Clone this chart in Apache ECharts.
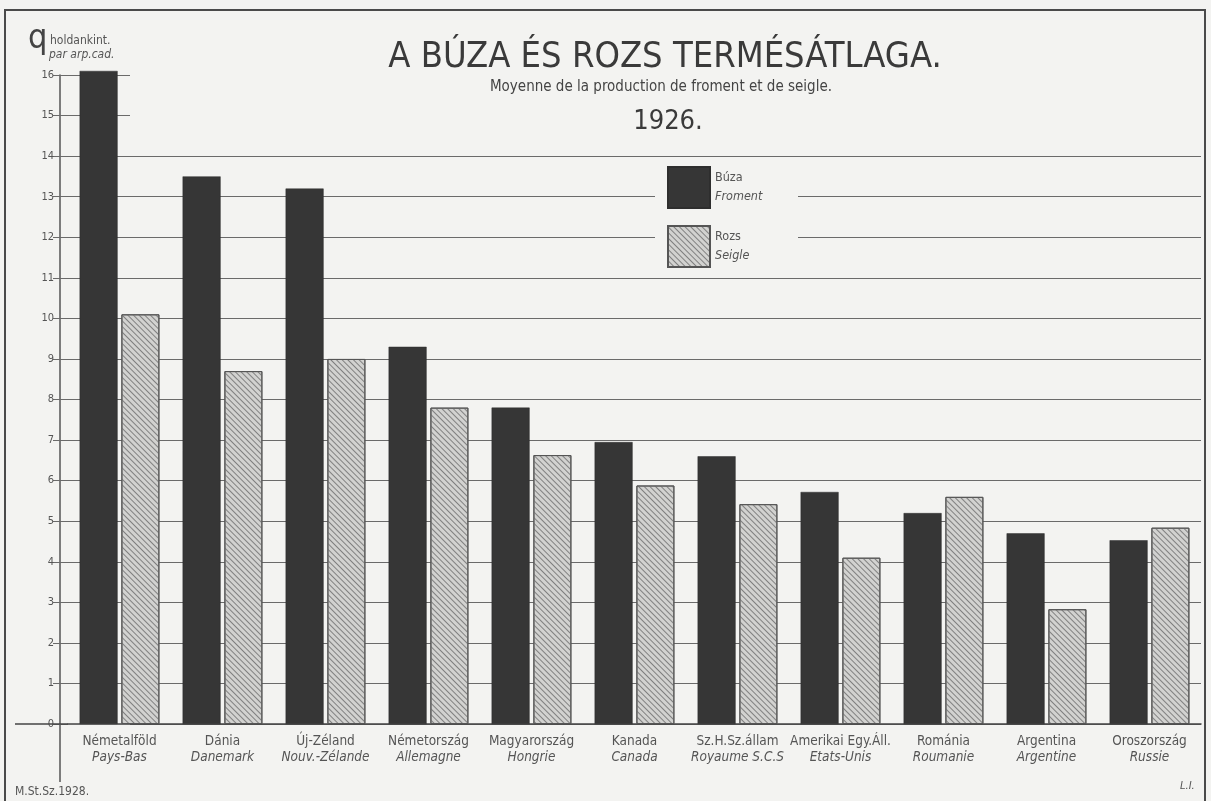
<!DOCTYPE html>
<html>
<head>
<meta charset="utf-8">
<script src="https://cdn.jsdelivr.net/npm/echarts@6/dist/echarts.min.js"></script>
<style>
html,body{margin:0;padding:0;background:#f3f3f1;overflow:hidden;}
#c{width:1211px;height:801px;}
#frame{position:absolute;left:4px;top:9px;width:1198px;height:800px;border:2px solid #4a4a4a;border-bottom:none;pointer-events:none;}
</style>
</head>
<body>
<div id="c"></div>
<div id="frame"></div>
<script>
// ---- data ----
const categoriesHu = ['Németalföld', 'Dánia', 'Új-Zéland', 'Németország', 'Magyarország', 'Kanada', 'Sz.H.Sz.állam', 'Amerikai Egy.Áll.', 'Románia', 'Argentina', 'Oroszország'];
const categoriesFr = ['Pays-Bas', 'Danemark', 'Nouv.-Zélande', 'Allemagne', 'Hongrie', 'Canada', 'Royaume S.C.S', 'Etats-Unis', 'Roumanie', 'Argentine', 'Russie'];
const buzaValues = [16.1, 13.5, 13.2, 9.3, 7.8, 6.95, 6.6, 5.72, 5.2, 4.7, 4.53];
const rozsValues = [10.1, 8.7, 9.0, 7.8, 6.63, 5.88, 5.42, 4.1, 5.6, 2.83, 4.84];
const seriesHu = ['Búza', 'Rozs'];
const seriesFr = ['Froment', 'Seigle'];
const yMin = 0, yMax = 16, yStep = 1;
const titleMain = 'A BÚZA ÉS ROZS TERMÉSÁTLAGA.';
const titleSub = 'Moyenne de la production de froment et de seigle.';
const titleYear = '1926.';
const unitBig = 'q';
const unitHu = 'holdankint.';
const unitFr = 'par arp.cad.';
const footLeft = 'M.St.Sz.1928.';
const footRight = 'L.I.';

// ---- styles ----
const FONT = "'DejaVu Sans Condensed','Liberation Sans Narrow','DejaVu Sans',sans-serif";
const BG = '#f3f3f1';
const INK = '#555';
const LINE = '#6a6a6a';

const splitColors = [];
for (let v = yMin; v <= yMax; v += yStep) splitColors.push(v <= 14 ? LINE : 'rgba(0,0,0,0)');

const chart = echarts.init(document.getElementById('c'), null, {renderer: 'canvas'});
const option = {
  backgroundColor: BG,
  animation: false,
  textStyle: {fontFamily: FONT},
  grid: {left: 68, right: 10, top: 75, bottom: 77, containLabel: false},
  legend: {
    orient: 'vertical',
    left: 655, top: 160,
    padding: [6, 13, 8, 12],
    backgroundColor: BG,
    itemWidth: 42, itemHeight: 41, itemGap: 16,
    icon: 'rect',
    data: seriesHu,
    formatter: function (name) {
      const i = seriesHu.indexOf(name);
      return name + '\n{fr|' + seriesFr[i] + '}';
    },
    textStyle: {
      color: INK, fontSize: 12.5, fontFamily: FONT, width: 70, lineHeight: 19,
      rich: {fr: {fontStyle: 'italic', color: INK, fontSize: 12.5, fontFamily: FONT, lineHeight: 19}}
    }
  },
  xAxis: {
    type: 'category',
    data: categoriesHu,
    axisLine: {lineStyle: {color: '#444', width: 1.5}},
    axisTick: {show: false},
    axisLabel: {
      interval: 0, margin: 9, color: INK, fontSize: 13.5, fontFamily: FONT, lineHeight: 16,
      formatter: function (v, i) { return v + '\n{fr|' + categoriesFr[i] + '}'; },
      rich: {fr: {fontStyle: 'italic', color: INK, fontSize: 13.5, fontFamily: FONT, lineHeight: 16}}
    }
  },
  yAxis: [{
    type: 'value', min: yMin, max: yMax, interval: yStep, offset: 8,
    axisLine: {show: true, lineStyle: {color: '#555', width: 1.5}},
    axisTick: {show: true, length: 7, lineStyle: {color: LINE}},
    axisLabel: {color: INK, fontSize: 11, margin: 6, fontFamily: FONT},
    splitLine: {show: true, lineStyle: {color: splitColors, width: 1.2}}
  }, {
    type: 'value', min: yMin, max: yMax, interval: yStep, offset: 8, position: 'left',
    axisLine: {show: false},
    axisTick: {show: true, inside: true, length: 70, lineStyle: {color: LINE, width: 1.2}},
    axisLabel: {show: false},
    splitLine: {show: false}
  }],
  series: [{
    name: seriesHu[0], type: 'bar', data: buzaValues, clip: false,
    barWidth: 38, barGap: '10%',
    itemStyle: {color: '#363636', borderColor: '#2e2e2e', borderWidth: 0.5}
  }, {
    name: seriesHu[1], type: 'bar', data: rozsValues, clip: false,
    barWidth: 38, barGap: '10%',
    itemStyle: {
      color: '#d2d2d0', borderColor: '#555', borderWidth: 1,
      decal: {symbol: 'rect', symbolSize: 1, dashArrayX: [1, 0], dashArrayY: [1, 3], rotation: Math.PI / 4, color: '#808080'}
    }
  }],
  graphic: [
    {type: 'text', position: [665, 40], style: {text: titleMain, fontSize: 36, fontFamily: FONT, fill: '#3a3a3a', textAlign: 'center'}, z: 10},
    {type: 'text', position: [661, 80], style: {text: titleSub, fontSize: 15, fontFamily: FONT, fill: '#444', textAlign: 'center'}, z: 10},
    {type: 'text', position: [668, 108], style: {text: titleYear, fontSize: 27, fontFamily: FONT, fill: '#3a3a3a', textAlign: 'center'}, z: 10},
    {type: 'text', position: [28, 22], style: {text: unitBig, fontSize: 34, fontFamily: FONT, fill: '#444'}, z: 10},
    {type: 'text', position: [50, 35], style: {text: unitHu, fontSize: 12, fontFamily: FONT, fill: INK}, z: 10},
    {type: 'text', position: [49, 49], style: {text: unitFr, fontSize: 12, fontStyle: 'italic', fontFamily: FONT, fill: INK}, z: 10},
    {type: 'text', position: [15, 786], style: {text: footLeft, fontSize: 12, fontFamily: FONT, fill: INK}, z: 10},
    {type: 'text', position: [1180, 781], style: {text: footRight, fontSize: 11, fontStyle: 'italic', fontFamily: FONT, fill: INK}, z: 10},
    {type: 'line', shape: {x1: 15, y1: 724, x2: 68, y2: 724}, style: {stroke: '#444', lineWidth: 1.5}, z: 1},
    {type: 'line', shape: {x1: 60, y1: 724, x2: 60, y2: 782}, style: {stroke: '#555', lineWidth: 1.5}, z: 1}
  ]
};
chart.setOption(option);
</script>
</body>
</html>
